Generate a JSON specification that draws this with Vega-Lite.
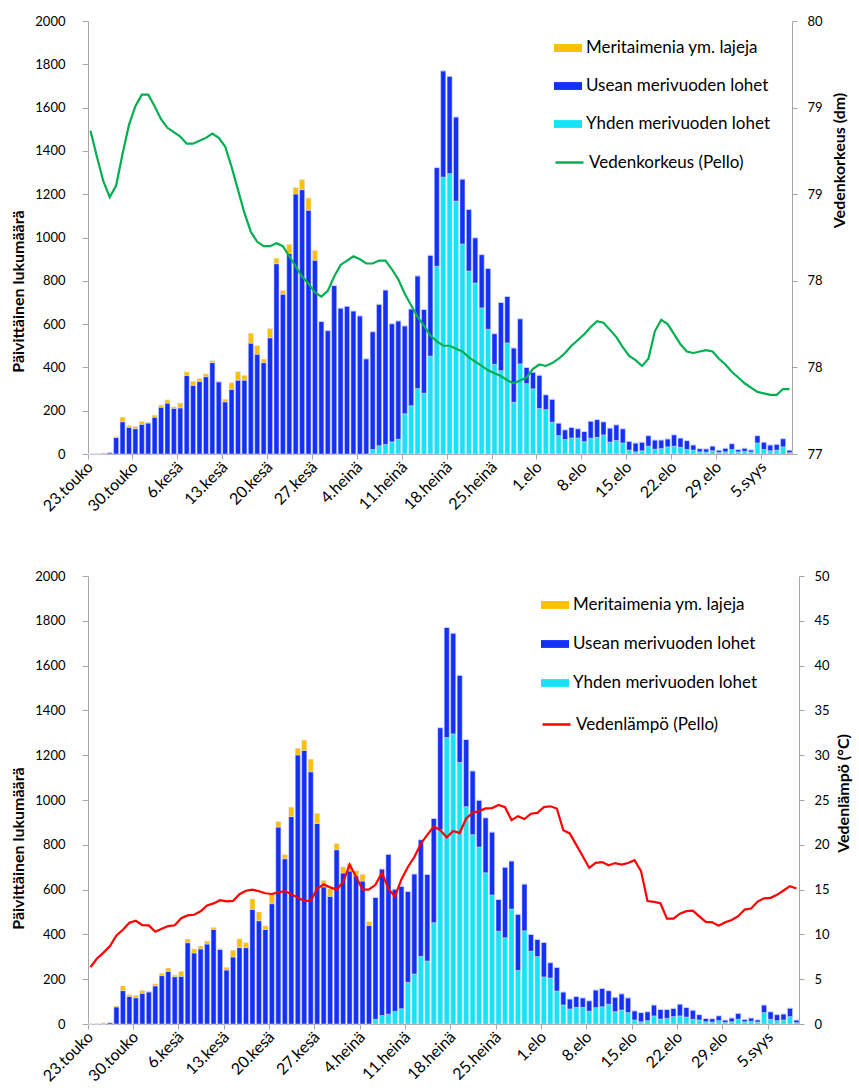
{
  "$schema": "https://vega.github.io/schema/vega-lite/v6.json",
  "padding": {"left": 10, "top": 15, "right": 2, "bottom": 2},
  "background": "white",
  "spacing": 55,
  "config": {
    "font": "Lato",
    "view": {"stroke": null},
    "axis": {"grid": false, "domainColor": "#A6A6A6", "tickColor": "#A6A6A6", "labelColor": "#000000", "titleColor": "#000000", "labelFontSize": 13, "titleFontSize": 16, "titleFontWeight": "bold", "tickSize": 5, "labelFont": "Lato", "titleFont": "Lato"},
    "legend": {"labelFontSize": 17, "labelColor": "#000000", "labelFont": "Lato", "labelLimit": 0}
  },
  "resolve": {"scale": {"color": "independent", "stroke": "independent"}},
  "datasets": {
    "fish": [
      {"d":"23.touko","Yhden":0,"Usean":0,"M":0,"M2":0,"lvl":79.24,"temp":6.36},
      {"d":"24.touko","Yhden":0,"Usean":0,"M":0,"M2":0,"lvl":79.06,"temp":7.31},
      {"d":"25.touko","Yhden":0,"Usean":0,"M":5,"M2":5,"lvl":78.89,"temp":7.97},
      {"d":"26.touko","Yhden":0,"Usean":6,"M":0,"M2":0,"lvl":78.78,"temp":8.70},
      {"d":"27.touko","Yhden":0,"Usean":76,"M":4,"M2":4,"lvl":78.86,"temp":9.89},
      {"d":"28.touko","Yhden":0,"Usean":149,"M":21,"M2":21,"lvl":79.08,"temp":10.51},
      {"d":"29.touko","Yhden":0,"Usean":123,"M":8,"M2":8,"lvl":79.28,"temp":11.31},
      {"d":"30.touko","Yhden":0,"Usean":117,"M":10,"M2":10,"lvl":79.41,"temp":11.52},
      {"d":"31.touko","Yhden":0,"Usean":137,"M":13,"M2":13,"lvl":79.49,"temp":11.04},
      {"d":"1.kesä","Yhden":0,"Usean":143,"M":3,"M2":3,"lvl":79.49,"temp":11.00},
      {"d":"2.kesä","Yhden":0,"Usean":170,"M":9,"M2":9,"lvl":79.41,"temp":10.29},
      {"d":"3.kesä","Yhden":0,"Usean":216,"M":10,"M2":10,"lvl":79.32,"temp":10.62},
      {"d":"4.kesä","Yhden":0,"Usean":235,"M":15,"M2":15,"lvl":79.26,"temp":10.93},
      {"d":"5.kesä","Yhden":0,"Usean":211,"M":7,"M2":7,"lvl":79.23,"temp":11.02},
      {"d":"6.kesä","Yhden":0,"Usean":213,"M":22,"M2":22,"lvl":79.20,"temp":11.81},
      {"d":"7.kesä","Yhden":0,"Usean":363,"M":16,"M2":16,"lvl":79.15,"temp":12.12},
      {"d":"8.kesä","Yhden":0,"Usean":317,"M":18,"M2":18,"lvl":79.15,"temp":12.19},
      {"d":"9.kesä","Yhden":0,"Usean":335,"M":13,"M2":13,"lvl":79.17,"temp":12.58},
      {"d":"10.kesä","Yhden":0,"Usean":357,"M":13,"M2":13,"lvl":79.19,"temp":13.23},
      {"d":"11.kesä","Yhden":0,"Usean":422,"M":9,"M2":9,"lvl":79.22,"temp":13.46},
      {"d":"12.kesä","Yhden":0,"Usean":333,"M":3,"M2":3,"lvl":79.19,"temp":13.81},
      {"d":"13.kesä","Yhden":0,"Usean":241,"M":12,"M2":12,"lvl":79.13,"temp":13.69},
      {"d":"14.kesä","Yhden":0,"Usean":299,"M":30,"M2":30,"lvl":78.99,"temp":13.74},
      {"d":"15.kesä","Yhden":0,"Usean":341,"M":39,"M2":39,"lvl":78.83,"temp":14.49},
      {"d":"16.kesä","Yhden":0,"Usean":341,"M":22,"M2":22,"lvl":78.67,"temp":14.87},
      {"d":"17.kesä","Yhden":0,"Usean":512,"M":46,"M2":46,"lvl":78.54,"temp":15.00},
      {"d":"18.kesä","Yhden":0,"Usean":461,"M":39,"M2":39,"lvl":78.47,"temp":14.81},
      {"d":"19.kesä","Yhden":0,"Usean":422,"M":16,"M2":16,"lvl":78.44,"temp":14.59},
      {"d":"20.kesä","Yhden":0,"Usean":537,"M":42,"M2":42,"lvl":78.44,"temp":14.51},
      {"d":"21.kesä","Yhden":0,"Usean":879,"M":25,"M2":25,"lvl":78.46,"temp":14.69},
      {"d":"22.kesä","Yhden":0,"Usean":738,"M":18,"M2":18,"lvl":78.44,"temp":14.83},
      {"d":"23.kesä","Yhden":0,"Usean":926,"M":42,"M2":42,"lvl":78.37,"temp":14.48},
      {"d":"24.kesä","Yhden":0,"Usean":1201,"M":30,"M2":30,"lvl":78.30,"temp":14.09},
      {"d":"25.kesä","Yhden":0,"Usean":1221,"M":46,"M2":46,"lvl":78.23,"temp":13.75},
      {"d":"26.kesä","Yhden":0,"Usean":1126,"M":56,"M2":56,"lvl":78.18,"temp":13.75},
      {"d":"27.kesä","Yhden":0,"Usean":895,"M":45,"M2":45,"lvl":78.12,"temp":15.11},
      {"d":"28.kesä","Yhden":0,"Usean":612,"M":0,"M2":29,"lvl":78.09,"temp":15.57},
      {"d":"29.kesä","Yhden":0,"Usean":570,"M":0,"M2":34,"lvl":78.13,"temp":15.25},
      {"d":"30.kesä","Yhden":0,"Usean":778,"M":0,"M2":27,"lvl":78.23,"temp":15.00},
      {"d":"1.heinä","Yhden":0,"Usean":674,"M":0,"M2":27,"lvl":78.31,"temp":15.84},
      {"d":"2.heinä","Yhden":0,"Usean":683,"M":0,"M2":33,"lvl":78.34,"temp":17.79},
      {"d":"3.heinä","Yhden":0,"Usean":661,"M":0,"M2":23,"lvl":78.37,"temp":16.43},
      {"d":"4.heinä","Yhden":0,"Usean":638,"M":0,"M2":30,"lvl":78.35,"temp":14.99},
      {"d":"5.heinä","Yhden":0,"Usean":440,"M":0,"M2":17,"lvl":78.32,"temp":15.02},
      {"d":"6.heinä","Yhden":21,"Usean":544,"M":0,"M2":0,"lvl":78.32,"temp":15.53},
      {"d":"7.heinä","Yhden":38,"Usean":654,"M":0,"M2":0,"lvl":78.34,"temp":16.90},
      {"d":"8.heinä","Yhden":44,"Usean":714,"M":0,"M2":0,"lvl":78.34,"temp":15.08},
      {"d":"9.heinä","Yhden":56,"Usean":546,"M":0,"M2":0,"lvl":78.28,"temp":14.23},
      {"d":"10.heinä","Yhden":68,"Usean":547,"M":0,"M2":0,"lvl":78.21,"temp":16.13},
      {"d":"11.heinä","Yhden":186,"Usean":406,"M":0,"M2":0,"lvl":78.11,"temp":17.53},
      {"d":"12.heinä","Yhden":223,"Usean":447,"M":0,"M2":0,"lvl":78.03,"temp":18.64},
      {"d":"13.heinä","Yhden":302,"Usean":521,"M":0,"M2":0,"lvl":77.95,"temp":20.12},
      {"d":"14.heinä","Yhden":281,"Usean":387,"M":0,"M2":0,"lvl":77.89,"temp":21.11},
      {"d":"15.heinä","Yhden":452,"Usean":466,"M":0,"M2":0,"lvl":77.82,"temp":22.06},
      {"d":"16.heinä","Yhden":867,"Usean":456,"M":0,"M2":0,"lvl":77.78,"temp":21.62},
      {"d":"17.heinä","Yhden":1279,"Usean":491,"M":0,"M2":0,"lvl":77.75,"temp":20.83},
      {"d":"18.heinä","Yhden":1295,"Usean":450,"M":0,"M2":0,"lvl":77.75,"temp":21.55},
      {"d":"19.heinä","Yhden":1168,"Usean":389,"M":0,"M2":0,"lvl":77.73,"temp":21.31},
      {"d":"20.heinä","Yhden":970,"Usean":300,"M":0,"M2":0,"lvl":77.71,"temp":22.94},
      {"d":"21.heinä","Yhden":845,"Usean":285,"M":0,"M2":0,"lvl":77.67,"temp":23.59},
      {"d":"22.heinä","Yhden":790,"Usean":209,"M":0,"M2":0,"lvl":77.64,"temp":23.76},
      {"d":"23.heinä","Yhden":675,"Usean":246,"M":0,"M2":0,"lvl":77.61,"temp":24.06},
      {"d":"24.heinä","Yhden":576,"Usean":281,"M":0,"M2":0,"lvl":77.58,"temp":24.10},
      {"d":"25.heinä","Yhden":414,"Usean":142,"M":0,"M2":0,"lvl":77.56,"temp":24.45},
      {"d":"26.heinä","Yhden":385,"Usean":315,"M":0,"M2":0,"lvl":77.54,"temp":24.20},
      {"d":"27.heinä","Yhden":513,"Usean":215,"M":0,"M2":0,"lvl":77.51,"temp":22.76},
      {"d":"28.heinä","Yhden":239,"Usean":251,"M":0,"M2":0,"lvl":77.49,"temp":23.20},
      {"d":"29.heinä","Yhden":416,"Usean":209,"M":0,"M2":0,"lvl":77.51,"temp":22.88},
      {"d":"30.heinä","Yhden":325,"Usean":75,"M":0,"M2":0,"lvl":77.53,"temp":23.47},
      {"d":"31.heinä","Yhden":301,"Usean":77,"M":0,"M2":0,"lvl":77.59,"temp":23.56},
      {"d":"1.elo","Yhden":210,"Usean":154,"M":0,"M2":0,"lvl":77.62,"temp":24.20},
      {"d":"2.elo","Yhden":205,"Usean":69,"M":0,"M2":0,"lvl":77.61,"temp":24.30},
      {"d":"3.elo","Yhden":147,"Usean":106,"M":0,"M2":0,"lvl":77.63,"temp":24.05},
      {"d":"4.elo","Yhden":85,"Usean":58,"M":0,"M2":0,"lvl":77.66,"temp":21.63},
      {"d":"5.elo","Yhden":67,"Usean":45,"M":0,"M2":0,"lvl":77.70,"temp":21.27},
      {"d":"6.elo","Yhden":74,"Usean":49,"M":0,"M2":0,"lvl":77.75,"temp":19.99},
      {"d":"7.elo","Yhden":74,"Usean":43,"M":0,"M2":0,"lvl":77.79,"temp":18.73},
      {"d":"8.elo","Yhden":57,"Usean":47,"M":0,"M2":0,"lvl":77.83,"temp":17.42},
      {"d":"9.elo","Yhden":73,"Usean":79,"M":0,"M2":0,"lvl":77.88,"temp":17.99},
      {"d":"10.elo","Yhden":77,"Usean":82,"M":0,"M2":0,"lvl":77.92,"temp":18.07},
      {"d":"11.elo","Yhden":88,"Usean":61,"M":0,"M2":0,"lvl":77.91,"temp":17.72},
      {"d":"12.elo","Yhden":55,"Usean":65,"M":0,"M2":0,"lvl":77.86,"temp":17.96},
      {"d":"13.elo","Yhden":62,"Usean":73,"M":0,"M2":0,"lvl":77.81,"temp":17.80},
      {"d":"14.elo","Yhden":51,"Usean":66,"M":0,"M2":0,"lvl":77.74,"temp":17.97},
      {"d":"15.elo","Yhden":18,"Usean":41,"M":0,"M2":0,"lvl":77.68,"temp":18.28},
      {"d":"16.elo","Yhden":10,"Usean":41,"M":0,"M2":0,"lvl":77.65,"temp":17.06},
      {"d":"17.elo","Yhden":15,"Usean":40,"M":0,"M2":0,"lvl":77.61,"temp":13.72},
      {"d":"18.elo","Yhden":36,"Usean":49,"M":0,"M2":0,"lvl":77.66,"temp":13.64},
      {"d":"19.elo","Yhden":22,"Usean":43,"M":0,"M2":0,"lvl":77.85,"temp":13.47},
      {"d":"20.elo","Yhden":25,"Usean":40,"M":0,"M2":0,"lvl":77.93,"temp":11.76},
      {"d":"21.elo","Yhden":33,"Usean":37,"M":0,"M2":0,"lvl":77.90,"temp":11.77},
      {"d":"22.elo","Yhden":36,"Usean":53,"M":0,"M2":0,"lvl":77.83,"temp":12.32},
      {"d":"23.elo","Yhden":31,"Usean":43,"M":0,"M2":0,"lvl":77.76,"temp":12.59},
      {"d":"24.elo","Yhden":21,"Usean":41,"M":0,"M2":0,"lvl":77.71,"temp":12.64},
      {"d":"25.elo","Yhden":18,"Usean":24,"M":0,"M2":0,"lvl":77.70,"temp":12.02},
      {"d":"26.elo","Yhden":10,"Usean":15,"M":0,"M2":0,"lvl":77.71,"temp":11.39},
      {"d":"27.elo","Yhden":9,"Usean":15,"M":0,"M2":0,"lvl":77.72,"temp":11.34},
      {"d":"28.elo","Yhden":15,"Usean":22,"M":0,"M2":0,"lvl":77.71,"temp":10.96},
      {"d":"29.elo","Yhden":7,"Usean":11,"M":0,"M2":0,"lvl":77.66,"temp":11.35},
      {"d":"30.elo","Yhden":10,"Usean":17,"M":0,"M2":0,"lvl":77.62,"temp":11.61},
      {"d":"31.elo","Yhden":21,"Usean":27,"M":0,"M2":0,"lvl":77.57,"temp":12.03},
      {"d":"1.syys","Yhden":10,"Usean":11,"M":0,"M2":0,"lvl":77.53,"temp":12.77},
      {"d":"2.syys","Yhden":12,"Usean":15,"M":0,"M2":0,"lvl":77.49,"temp":12.89},
      {"d":"3.syys","Yhden":9,"Usean":10,"M":0,"M2":0,"lvl":77.46,"temp":13.66},
      {"d":"4.syys","Yhden":51,"Usean":34,"M":0,"M2":0,"lvl":77.43,"temp":14.03},
      {"d":"5.syys","Yhden":21,"Usean":34,"M":0,"M2":0,"lvl":77.42,"temp":14.08},
      {"d":"6.syys","Yhden":15,"Usean":27,"M":0,"M2":0,"lvl":77.41,"temp":14.42},
      {"d":"7.syys","Yhden":18,"Usean":27,"M":0,"M2":0,"lvl":77.41,"temp":14.90},
      {"d":"8.syys","Yhden":33,"Usean":38,"M":0,"M2":0,"lvl":77.45,"temp":15.39},
      {"d":"9.syys","Yhden":6,"Usean":12,"M":0,"M2":0,"lvl":77.45,"temp":15.13}
    ]
  },
  "vconcat": [
    {
      "width": 704,
      "height": 433,
      "data": {"name": "fish"},
      "resolve": {"scale": {"y": "independent"}},
      "layer": [
        {
          "transform": [{"fold": ["Yhden", "Usean", "M"], "as": ["species", "n"]}],
          "mark": {"type": "bar", "stroke": "#D6DCFF", "strokeWidth": 0.5},
          "encoding": {
            "x": {"field": "d", "type": "ordinal", "sort": null,
              "scale": {"paddingInner": 0.22, "paddingOuter": 0},
              "axis": {"values": ["23.touko","30.touko","6.kesä","13.kesä","20.kesä","27.kesä","4.heinä","11.heinä","18.heinä","25.heinä","1.elo","8.elo","15.elo","22.elo","29.elo","5.syys"],
                "bandPosition": 0, "labelAngle": -45, "labelAlign": "right", "labelBaseline": "middle", "labelFontSize": 16, "labelPadding": 5, "title": null}},
            "y": {"field": "n", "type": "quantitative", "stack": "zero",
              "scale": {"domain": [0, 2000], "nice": false},
              "axis": {"values": [0,200,400,600,800,1000,1200,1400,1600,1800,2000], "format": "d", "title": "Päivittäinen lukumäärä", "titleY": 270, "labelPadding": 17, "titlePadding": 8, "tickSize": 6}},
            "color": {"field": "species", "type": "nominal",
              "scale": {"domain": ["M", "Usean", "Yhden"], "range": ["#FFC000", "#1430F6", "#16E4F6"]},
              "legend": {"orient": "none", "legendX": 466, "legendY": 13, "title": null, "symbolType": "M-1,-0.28H1V0.28H-1Z", "symbolSize": 784, "symbolStrokeWidth": 0, "labelOffset": 4, "rowPadding": 16,
                "labelExpr": "datum.label == 'Yhden' ? 'Yhden merivuoden lohet' : datum.label == 'Usean' ? 'Usean merivuoden lohet' : 'Meritaimenia ym. lajeja'"}},
            "order": {"field": "species", "sort": "descending"}
          }
        },
        {
          "mark": {"type": "line", "strokeWidth": 2.2},
          "encoding": {
            "x": {"field": "d", "type": "ordinal", "sort": null},
            "y": {"field": "lvl", "type": "quantitative",
              "scale": {"domain": [77, 80], "nice": false, "zero": false},
              "axis": {"orient": "right", "values": [77, 77.6, 78.2, 78.8, 79.4, 80], "format": ".0f", "title": "Vedenkorkeus (dm)", "titleY": 139, "titleAngle": 270, "titleBaseline": "top", "labelPadding": 10, "titlePadding": 9}},
            "stroke": {"datum": "Vedenkorkeus (Pello)", "type": "nominal", "scale": {"range": ["#00B050"]},
              "legend": {"orient": "none", "legendX": 466, "legendY": 126, "title": null, "symbolType": "stroke", "symbolSize": 784, "symbolStrokeWidth": 2.5, "labelOffset": 4}}
          }
        }
      ]
    },
    {
      "width": 711,
      "height": 448,
      "data": {"name": "fish"},
      "resolve": {"scale": {"y": "independent"}},
      "layer": [
        {
          "transform": [{"fold": ["Yhden", "Usean", "M2"], "as": ["species", "n"]}],
          "mark": {"type": "bar", "stroke": "#D6DCFF", "strokeWidth": 0.5},
          "encoding": {
            "x": {"field": "d", "type": "ordinal", "sort": null,
              "scale": {"paddingInner": 0.22, "paddingOuter": 0},
              "axis": {"values": ["23.touko","30.touko","6.kesä","13.kesä","20.kesä","27.kesä","4.heinä","11.heinä","18.heinä","25.heinä","1.elo","8.elo","15.elo","22.elo","29.elo","5.syys"],
                "bandPosition": 0, "labelAngle": -45, "labelAlign": "right", "labelBaseline": "middle", "labelFontSize": 16, "labelPadding": 5, "title": null}},
            "y": {"field": "n", "type": "quantitative", "stack": "zero",
              "scale": {"domain": [0, 2000], "nice": false},
              "axis": {"values": [0,200,400,600,800,1000,1200,1400,1600,1800,2000], "format": "d", "title": "Päivittäinen lukumäärä", "titleY": 272, "labelPadding": 17, "titlePadding": 8, "tickSize": 6}},
            "color": {"field": "species", "type": "nominal",
              "scale": {"domain": ["M2", "Usean", "Yhden"], "range": ["#FFC000", "#1430F6", "#16E4F6"]},
              "legend": {"orient": "none", "legendX": 453, "legendY": 15, "title": null, "symbolType": "M-1,-0.28H1V0.28H-1Z", "symbolSize": 784, "symbolStrokeWidth": 0, "labelOffset": 4, "rowPadding": 17,
                "labelExpr": "datum.label == 'Yhden' ? 'Yhden merivuoden lohet' : datum.label == 'Usean' ? 'Usean merivuoden lohet' : 'Meritaimenia ym. lajeja'"}},
            "order": {"field": "species", "sort": "descending"}
          }
        },
        {
          "mark": {"type": "line", "strokeWidth": 2.2},
          "encoding": {
            "x": {"field": "d", "type": "ordinal", "sort": null},
            "y": {"field": "temp", "type": "quantitative",
              "scale": {"domain": [0, 50], "nice": false},
              "axis": {"orient": "right", "values": [0,5,10,15,20,25,30,35,40,45,50], "title": "Vedenlämpö (°C)", "titleY": 217, "titleAngle": 270, "titleBaseline": "top", "labelPadding": 10, "titlePadding": 6}},
            "stroke": {"datum": "Vedenlämpö (Pello)", "type": "nominal", "scale": {"range": ["#FF0000"]},
              "legend": {"orient": "none", "legendX": 453, "legendY": 133, "title": null, "symbolType": "stroke", "symbolSize": 784, "symbolStrokeWidth": 2.5, "labelOffset": 4}}
          }
        }
      ]
    }
  ]
}
